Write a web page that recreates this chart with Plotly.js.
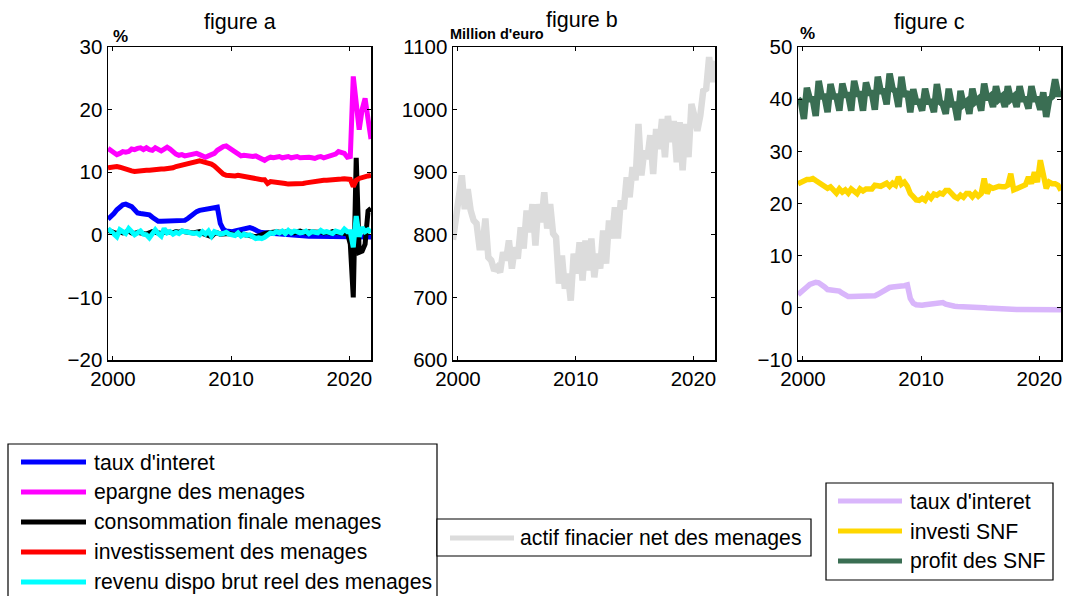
<!DOCTYPE html>
<html>
<head>
<meta charset="utf-8">
<script src="https://cdn.plot.ly/plotly-3.0.1.min.js"></script>
<style>
  html, body { margin: 0; padding: 0; background: #ffffff; }
  #chart { width: 1068px; height: 596px; }
</style>
</head>
<body>
<div id="chart"></div>
<script>
// ---------- DATA (quarterly, 1999 Q3 .. 2021 Q4) ----------
const startYear = 1999.58;
const nQuarters = 90;

// figure a (%)
const tauxInteret = [2.5, 2.9, 3.4, 4.0, 4.5, 4.8, 4.9, 4.8, 4.5, 4.0,
  3.5, 3.4, 3.4, 3.4, 3.2, 2.8, 2.4, 2.15, 2.15, 2.15,
  2.15, 2.15, 2.15, 2.15, 2.2, 2.2, 2.3, 2.6, 3.0, 3.4,
  3.7, 3.9, 4.0, 4.15, 4.15, 4.2, 4.25, 4.4, 1.8, 0.9,
  0.6, 0.5, 0.5, 0.6, 0.7, 0.8, 0.8, 1.0, 1.15, 1.0,
  0.7, 0.5, 0.35, 0.3, 0.25, 0.25, 0.25, 0.2, 0.2, 0.15,
  0.15, 0.1, 0.05, 0.0, -0.05, -0.1, -0.15, -0.2, -0.25, -0.25,
  -0.25, -0.25, -0.3, -0.3, -0.3, -0.3, -0.3, -0.3, -0.3, -0.3,
  -0.3, -0.3, -0.3, -0.35, -0.35, -0.35, -0.35, -0.35, -0.35, -0.35];

const epargneMenages = [13.8, 13.4, 13.0, 12.8, 13.0, 13.3, 13.2, 13.3, 13.7, 13.6,
  13.8, 13.9, 13.6, 13.9, 13.6, 13.5, 13.9, 13.7, 13.4, 13.7,
  14.0, 13.7, 13.2, 12.9, 12.7, 12.8, 12.6, 12.7, 12.8, 12.9,
  13.0, 12.8, 12.5, 12.4, 12.6, 12.8, 13.0, 13.5, 13.9, 14.1,
  14.2, 13.9, 13.6, 13.2, 12.9, 12.6, 12.7, 12.6, 12.4, 12.5,
  12.6, 12.3, 12.1, 11.9, 12.2, 12.4, 12.3, 12.4, 12.5, 12.3,
  12.4, 12.5, 12.3, 12.4, 12.5, 12.3, 12.4, 12.5, 12.4, 12.3,
  12.2, 12.4, 12.5, 12.3, 12.4, 12.5, 12.6, 12.9, 13.3, 13.2,
  13.0, 12.4, 12.5, 25.3, 21.0, 16.8, 20.0, 21.8, 18.5, 15.3];

const consoFinale = [0.7, 0.5, 0.3, 0.2, 0.5, 0.3, 0.4, 0.6, 0.3, 0.2,
  0.4, 0.3, 0.2, 0.1, 0.3, 0.5, 0.4, 0.3, 0.2, 0.4,
  0.5, 0.4, 0.3, 0.5, 0.4, 0.6, 0.5, 0.4, 0.5, 0.3,
  0.4, 0.5, 0.2, 0.1, -0.2, -0.3, 0.2, 0.3, 0.1, 0.2,
  0.3, 0.2, 0.1, 0.0, 0.2, 0.1, -0.1, 0.0, -0.2, -0.4,
  -0.3, -0.2, 0.1, 0.2, 0.3, 0.4, 0.3, 0.5, 0.4, 0.3,
  0.4, 0.5, 0.4, 0.3, 0.5, 0.6, 0.4, 0.3, 0.5, 0.4,
  0.3, 0.4, 0.5, 0.3, 0.4, 0.3, 0.5, 0.4, 0.3, 0.4,
  0.2, 0.3, -1.5, -10.0, 12.3, -2.8, -2.6, -1.5, 3.8, 4.2];

const investMenages = [10.7, 10.8, 10.8, 10.9, 10.8, 10.6, 10.4, 10.3, 10.2, 10.1,
  10.2, 10.3, 10.3, 10.3, 10.3, 10.4, 10.4, 10.4, 10.5, 10.5,
  10.5, 10.6, 10.7, 10.9, 11.0, 11.1, 11.3, 11.4, 11.5, 11.7,
  11.7, 11.8, 11.7, 11.6, 11.4, 11.3, 11.0, 10.5, 10.1, 9.7,
  9.5, 9.4, 9.3, 9.4, 9.5, 9.4, 9.3, 9.3, 9.2, 9.1,
  9.0, 8.8, 8.8, 8.8, 8.2, 8.5, 8.4, 8.4, 8.3, 8.3,
  8.2, 8.1, 8.1, 8.05, 8.05, 8.1, 8.2, 8.3, 8.4, 8.5,
  8.5, 8.6, 8.6, 8.7, 8.7, 8.7, 8.8, 8.8, 8.9, 8.9,
  8.95, 8.9, 8.85, 7.7, 8.7, 9.0, 9.2, 9.3, 9.4, 9.5];

const revenuDispo = [1.0, 0.6, 0.2, -0.3, 0.8, 0.4, 0.2, 1.0, 0.4, 0.0,
  0.3, 0.6, 0.1, 0.0, -0.5, 0.3, 0.8, 0.2, -0.2, 1.0,
  0.3, 0.5, 0.1, 0.4, 0.2, 0.6, 0.5, 0.3, 0.4, 0.2,
  0.3, 0.0, 0.5, 0.1, 0.6, -0.2, 0.5, 0.3, 0.1, 0.2,
  0.4, 0.1, 0.0, -0.1, 0.3, -0.2, 0.1, -0.1, 0.0, -0.3,
  -0.6, -0.5, -0.6, -0.4, 0.0, 0.3, 0.2, 0.5, 0.3, 0.6,
  0.2, 0.7, 0.3, 0.6, 0.5, 0.3, 0.4, 0.6, 0.2, 0.5,
  0.4, 0.3, 0.7, 0.4, 0.5, 0.3, 0.2, 0.6, 0.4, 0.3,
  0.9, 0.5, 0.5, -2.0, 3.0, -0.3, 1.2, 0.5, 0.8, 0.4];

// figure b (Million d'euro)
const actifFinancier = [792, 823, 860, 895, 841, 873, 839, 823, 818, 780,
  780, 826, 764, 759, 743, 748, 740, 772, 759, 791,
  746, 780, 762, 812, 778, 839, 804, 849, 783, 849,
  820, 868, 810, 849, 802, 796, 722, 767, 714, 738,
  695, 770, 738, 788, 727, 791, 743, 794, 732, 770,
  746, 807, 754, 823, 794, 844, 794, 855, 841, 892,
  860, 908, 887, 977, 895, 935, 921, 959, 897, 969,
  937, 985, 924, 990, 948, 982, 916, 980, 903, 977,
  924, 1009, 990, 966, 990, 1030, 1033, 1084, 1044, 1078];

// figure c (%)
const tauxInteretC = tauxInteret;
const investiSNF = [23.8, 24.1, 24.3, 24.6, 24.6, 24.8, 24.4, 24.0, 23.6, 23.3,
  22.9, 23.2, 22.4, 22.0, 22.8, 22.2, 22.6, 22.0, 22.8, 22.2,
  21.9, 22.8, 22.4, 22.8, 22.8, 22.8, 23.5, 23.3, 23.3, 23.6,
  23.9, 23.3, 23.9, 23.5, 25.1, 23.7, 24.1, 23.3, 21.9, 21.3,
  20.7, 20.6, 21.0, 20.6, 21.6, 21.0, 21.8, 21.6, 22.0, 21.8,
  22.5, 22.5, 21.8, 21.3, 21.0, 21.6, 21.2, 21.9, 21.9, 21.3,
  22.0, 21.4, 21.9, 24.8, 21.9, 23.2, 22.9, 23.2, 23.3, 23.2,
  23.2, 23.5, 25.7, 22.6, 22.9, 23.2, 23.3, 23.6, 25.1, 23.8,
  26.0, 24.1, 28.3, 25.7, 22.9, 24.1, 23.8, 23.8, 23.5, 22.5];

const profitSNF = [40.0, 39.5, 36.2, 42.2, 40.0, 40.0, 36.8, 43.5, 40.5, 40.5,
  37.5, 42.9, 40.5, 40.5, 37.8, 43.0, 40.8, 40.8, 37.8, 43.5,
  41.0, 41.0, 37.8, 43.2, 41.2, 41.2, 38.0, 44.3, 41.5, 41.5,
  39.0, 44.9, 42.0, 41.5, 38.5, 44.3, 40.5, 41.5, 37.5, 41.9,
  39.5, 39.5, 37.8, 42.0, 39.5, 39.5, 37.5, 42.9, 39.5, 39.0,
  37.2, 42.0, 39.0, 39.0, 36.0, 41.6, 39.0, 39.5, 37.2, 42.0,
  39.5, 40.0, 37.8, 43.0, 40.0, 40.5, 38.5, 42.5, 40.0, 40.5,
  38.5, 42.5, 40.0, 40.5, 38.5, 42.5, 40.0, 40.0, 38.2, 42.5,
  40.0, 40.0, 38.0, 41.3, 36.6, 40.0, 40.5, 43.8, 41.0, 41.0];

const yearTicks = [2000, 2010, 2020];
const tickLabelsX = ['2000', '2010', '2020'];

const legendA = ["taux d'interet", 'epargne des menages', 'consommation finale menages',
                 'investissement des menages', 'revenu dispo brut reel des menages'];
const legendB = ['actif finacier net des menages'];
const legendC = ["taux d'interet", 'investi SNF', 'profit des SNF'];

// ---------- BUILD ----------
const dates = [];
for (let i = 0; i < nQuarters; i++) dates.push(startYear + 0.25 * i);

const W = 1068, H = 596;
const px = x => x / W;
const py = y => 1 - y / H;
const FONT = 'Liberation Sans, Arial, Helvetica, sans-serif';

const colA = ['#0000ff', '#ff00ff', '#000000', '#ff0000', '#00ffff'];
const colB = ['#dcdcdc'];
const colC = ['#d9b6fb', '#ffd700', '#3a6e53'];

const seriesA = [tauxInteret, epargneMenages, consoFinale, investMenages, revenuDispo];
const seriesC = [tauxInteretC, investiSNF, profitSNF];

const traces = [];
seriesA.forEach((s, k) => traces.push({
  x: dates, y: s, type: 'scatter', mode: 'lines', name: legendA[k],
  line: { color: colA[k], width: 5 }, xaxis: 'x', yaxis: 'y', showlegend: false,
  hoverinfo: 'skip'
}));
traces.push({
  x: dates, y: actifFinancier, type: 'scatter', mode: 'lines', name: legendB[0],
  line: { color: colB[0], width: 6.5 }, xaxis: 'x2', yaxis: 'y2', showlegend: false,
  hoverinfo: 'skip'
});
seriesC.forEach((s, k) => traces.push({
  x: dates, y: s, type: 'scatter', mode: 'lines', name: legendC[k],
  line: { color: colC[k], width: k === 2 ? 6.5 : 5.5 }, xaxis: 'x3', yaxis: 'y3', showlegend: false,
  hoverinfo: 'skip'
}));

const xRange = [dates[0], dates[dates.length - 1]];
const yTop = py(47), yBot = py(360);
const TICKFONT = { family: FONT, size: 20.5, color: '#000' };

function xAxis(l, r) {
  return {
    domain: [px(l), px(r)], range: xRange, tickmode: 'array', tickvals: yearTicks, ticktext: tickLabelsX,
    ticks: 'inside', ticklen: 4, tickwidth: 1, tickcolor: '#000',
    showline: true, linecolor: '#000', linewidth: 1.5, mirror: 'ticks',
    showgrid: false, zeroline: false, tickfont: TICKFONT,
    fixedrange: true
  };
}
function yAxis(anchor, range, dtick) {
  return {
    domain: [yBot, yTop], range: range, dtick: dtick, tick0: range[0], anchor: anchor,
    ticks: 'inside', ticklen: 4, tickwidth: 1, tickcolor: '#000',
    showline: true, linecolor: '#000', linewidth: 1.5, mirror: 'ticks',
    showgrid: false, zeroline: false, tickfont: TICKFONT,
    fixedrange: true
  };
}

const annotations = [];
const shapes = [];
function txt(x, y, text, opts) {
  annotations.push(Object.assign({
    xref: 'paper', yref: 'paper', x: px(x), y: py(y), text: text, showarrow: false,
    xanchor: 'left', yanchor: 'middle', font: { family: FONT, size: 20, color: '#000' }
  }, opts || {}));
}
// titles
const TITLEFONT = { family: FONT, size: 21.5, color: '#000' };
txt(239.5, 22, 'figure a', { xanchor: 'center', font: TITLEFONT });
txt(582, 20, 'figure b', { xanchor: 'center', font: TITLEFONT });
txt(929.5, 22, 'figure c', { xanchor: 'center', font: TITLEFONT });
// units
txt(111, 36, '<b>%</b>', { font: { family: FONT, size: 17, color: '#000' } });
txt(798, 34, '<b>%</b>', { font: { family: FONT, size: 17, color: '#000' } });
txt(448, 34, "<b>Million d'euro</b>", { font: { family: FONT, size: 14.5, color: '#000' } });

// custom legends
function legendBox(x0, y0, x1, y1, labels, colors, lx0, lx1, tx, ys, lw) {
  shapes.push({ type: 'rect', xref: 'paper', yref: 'paper', x0: px(x0), x1: px(x1), y0: py(y1), y1: py(y0),
    line: { color: '#000', width: 1.2 }, fillcolor: '#ffffff', layer: 'above' });
  labels.forEach((lab, k) => {
    shapes.push({ type: 'line', xref: 'paper', yref: 'paper', x0: px(lx0), x1: px(lx1), y0: py(ys[k]), y1: py(ys[k]),
      line: { color: colors[k], width: lw }, layer: 'above' });
    txt(tx, ys[k], lab, { font: { family: FONT, size: 21.2, color: '#000' } });
  });
}
legendBox(8, 444, 437, 640, legendA, colA, 21, 86, 92, [462, 492, 522, 552, 582], 5);
legendBox(437, 519, 811, 556, legendB, colB, 450, 514, 518, [538], 5);
legendBox(826, 483, 1053, 580, legendC, colC, 838, 902, 908, [501, 531, 561], 5);

const layout = {
  width: W, height: H, margin: { l: 0, r: 0, t: 0, b: 0 },
  paper_bgcolor: '#ffffff', plot_bgcolor: '#ffffff', showlegend: false,
  font: { family: FONT, color: '#000' },
  xaxis: xAxis(108, 371), yaxis: yAxis('x', [-20, 30], 10),
  xaxis2: Object.assign(xAxis(453, 715), { anchor: 'y2' }), yaxis2: yAxis('x2', [600, 1100], 100),
  xaxis3: Object.assign(xAxis(798, 1061), { anchor: 'y3' }), yaxis3: yAxis('x3', [-10, 50], 10),
  annotations: annotations, shapes: shapes
};
layout.xaxis.anchor = 'y';

Plotly.newPlot('chart', traces, layout, { displayModeBar: false, staticPlot: true });
</script>
</body>
</html>
